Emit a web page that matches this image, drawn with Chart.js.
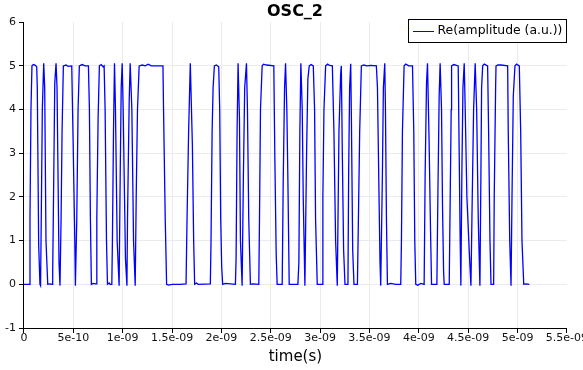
<!DOCTYPE html>
<html>
<head>
<meta charset="utf-8">
<script src="https://cdn.jsdelivr.net/npm/chart.js@4.4.0/dist/chart.umd.min.js"></script>
<style>
  html, body { margin: 0; padding: 0; background: #fff; overflow: hidden; }
  #chart { display: block; }
</style>
</head>
<body>
<canvas id="chart" width="588" height="370"></canvas>
<script>
// OSC_2 - valores (tiempo en segundos)
const time = [
  0, 0.051e-9, 0.061e-9, 0.071e-9, 0.081e-9, 0.096e-9, 0.112e-9, 0.129e-9, 0.135e-9, 0.149e-9,
  0.162e-9, 0.168e-9, 0.173e-9, 0.186e-9, 0.200e-9, 0.210e-9, 0.223e-9, 0.241e-9, 0.264e-9, 0.287e-9,
  0.291e-9, 0.302e-9, 0.312e-9, 0.325e-9, 0.335e-9, 0.355e-9, 0.365e-9, 0.376e-9, 0.386e-9, 0.399e-9,
  0.426e-9, 0.447e-9, 0.484e-9, 0.500e-9, 0.515e-9, 0.521e-9, 0.535e-9, 0.548e-9, 0.561e-9, 0.589e-9,
  0.619e-9, 0.653e-9, 0.663e-9, 0.673e-9, 0.683e-9, 0.700e-9, 0.731e-9, 0.738e-9, 0.751e-9, 0.764e-9,
  0.782e-9, 0.802e-9, 0.812e-9, 0.822e-9, 0.836e-9, 0.846e-9, 0.863e-9, 0.873e-9, 0.890e-9, 0.896e-9,
  0.907e-9, 0.917e-9, 0.927e-9, 0.944e-9, 0.964e-9, 0.975e-9, 0.985e-9, 0.995e-9, 1.005e-9, 1.028e-9,
  1.043e-9, 1.049e-9, 1.066e-9, 1.076e-9, 1.093e-9, 1.110e-9, 1.127e-9, 1.137e-9, 1.150e-9, 1.167e-9,
  1.198e-9, 1.228e-9, 1.259e-9, 1.289e-9, 1.330e-9, 1.408e-9, 1.414e-9, 1.431e-9, 1.445e-9, 1.462e-9,
  1.502e-9, 1.584e-9, 1.642e-9, 1.652e-9, 1.668e-9, 1.685e-9, 1.706e-9, 1.719e-9, 1.729e-9, 1.746e-9,
  1.766e-9, 1.888e-9, 1.895e-9, 1.906e-9, 1.916e-9, 1.929e-9, 1.949e-9, 1.973e-9, 1.983e-9, 1.993e-9,
  2.003e-9, 2.013e-9, 2.041e-9, 2.142e-9, 2.149e-9, 2.159e-9, 2.169e-9, 2.183e-9, 2.193e-9, 2.210e-9,
  2.223e-9, 2.236e-9, 2.254e-9, 2.264e-9, 2.277e-9, 2.294e-9, 2.315e-9, 2.379e-9, 2.386e-9, 2.396e-9,
  2.413e-9, 2.426e-9, 2.457e-9, 2.531e-9, 2.541e-9, 2.555e-9, 2.565e-9, 2.616e-9, 2.626e-9, 2.640e-9,
  2.650e-9, 2.663e-9, 2.673e-9, 2.687e-9, 2.721e-9, 2.775e-9, 2.785e-9, 2.795e-9, 2.805e-9, 2.819e-9,
  2.829e-9, 2.846e-9, 2.863e-9, 2.876e-9, 2.890e-9, 2.909e-9, 2.931e-9, 2.944e-9, 2.954e-9, 2.971e-9,
  3.022e-9, 3.028e-9, 3.039e-9, 3.056e-9, 3.076e-9, 3.096e-9, 3.124e-9, 3.140e-9, 3.157e-9, 3.174e-9,
  3.191e-9, 3.208e-9, 3.215e-9, 3.225e-9, 3.238e-9, 3.252e-9, 3.282e-9, 3.289e-9, 3.299e-9, 3.310e-9,
  3.317e-9, 3.330e-9, 3.343e-9, 3.378e-9, 3.388e-9, 3.401e-9, 3.418e-9, 3.442e-9, 3.472e-9, 3.513e-9,
  3.570e-9, 3.581e-9, 3.597e-9, 3.607e-9, 3.614e-9, 3.631e-9, 3.641e-9, 3.655e-9, 3.662e-9, 3.672e-9,
  3.682e-9, 3.716e-9, 3.766e-9, 3.817e-9, 3.824e-9, 3.834e-9, 3.851e-9, 3.868e-9, 3.898e-9, 3.936e-9,
  3.949e-9, 3.959e-9, 3.969e-9, 3.990e-9, 4.020e-9, 4.054e-9, 4.064e-9, 4.078e-9, 4.088e-9, 4.104e-9,
  4.119e-9, 4.129e-9, 4.183e-9, 4.193e-9, 4.206e-9, 4.216e-9, 4.230e-9, 4.240e-9, 4.251e-9, 4.257e-9,
  4.308e-9, 4.318e-9, 4.328e-9, 4.332e-9, 4.355e-9, 4.399e-9, 4.409e-9, 4.419e-9, 4.426e-9, 4.436e-9,
  4.447e-9, 4.460e-9, 4.470e-9, 4.487e-9, 4.510e-9, 4.528e-9, 4.538e-9, 4.555e-9, 4.571e-9, 4.586e-9,
  4.602e-9, 4.619e-9, 4.629e-9, 4.636e-9, 4.647e-9, 4.663e-9, 4.697e-9, 4.707e-9, 4.721e-9, 4.731e-9,
  4.758e-9, 4.764e-9, 4.778e-9, 4.782e-9, 4.802e-9, 4.832e-9, 4.900e-9, 4.906e-9, 4.921e-9, 4.934e-9,
  4.944e-9, 4.957e-9, 4.974e-9, 4.990e-9, 5.018e-9, 5.032e-9, 5.045e-9, 5.063e-9, 5.086e-9, 5.120e-9
];

const amplitude = [
  0, 0, 1.5, 4.0, 5.0, 5.03, 5.02, 4.98, 4.5, 0.9,
  0, -0.03, 1.0, 4.0, 5.06, 4.5, 1.0, 0, 0.01, 0,
  0.3, 2.5, 4.6, 5.06, 4.5, 0.5, -0.03, 1.5, 3.5, 5.0,
  5.02, 4.99, 5.0, 3.0, 1.0, -0.03, 1.5, 4.0, 5.0, 5.03,
  5.0, 5.0, 4.0, 1.5, 0, 0.02, 0.01, 1.5, 3.8, 5.0,
  5.03, 4.98, 5.0, 4.0, 1.0, 0, 0.03, 0, 0, 1.0,
  3.5, 5.06, 4.0, 1.0, -0.03, 2.5, 4.5, 5.06, 4.0, 0.6,
  -0.03, 1.5, 4.2, 5.06, 4.0, 1.0, -0.03, 2.0, 4.0, 5.0,
  5.02, 5.0, 5.04, 5.0, 5.0, 5.0, 4.0, 1.5, 0, -0.02,
  0, 0, 0.01, 1.5, 3.5, 5.06, 3.2, 1.0, 0, 0.03,
  0, 0.01, 1.0, 3.5, 4.5, 5.0, 5.02, 4.98, 4.0, 1.5,
  0.4, 0, 0.02, 0, 0.6, 3.5, 5.06, 3.8, 1.0, -0.03,
  2.5, 4.5, 5.06, 4.0, 1.5, 0, 0.01, 0, 1.5, 4.0,
  5.0, 5.04, 5.02, 5.0, 3.0, 0.7, 0, 0, 2.3, 4.5,
  5.06, 4.0, 2.5, 0, 0, 0, 0.5, 3.5, 5.06, 4.0,
  2.0, -0.03, 3.0, 4.7, 5.0, 5.03, 5.0, 4.0, 1.5, 0,
  0, 2.0, 4.0, 5.0, 5.04, 5.01, 5.0, 3.5, 1.0, -0.03,
  3.5, 4.8, 5.0, 3.0, 0.8, 0, 0, 2.5, 4.5, 5.05,
  3.8, 0.8, 0, 0, 1.5, 3.5, 5.0, 5.02, 5.0, 5.01,
  5.0, 4.5, 2.0, 0.5, -0.03, 2.5, 4.5, 5.06, 4.0, 1.5,
  0, 0.02, 0, 0, 1.0, 3.5, 5.0, 5.04, 5.0, 5.0,
  3.5, 1.0, 0, -0.02, 0.02, 0, 2.5, 4.6, 5.06, 3.3,
  1.2, 0, 0, 2.0, 4.3, 5.06, 4.0, 1.8, 0.3, 0,
  0, 2.0, 4.0, 5.0, 5.03, 5.0, 3.0, 1.0, -0.03, 2.5,
  4.5, 5.06, 4.0, 2.0, 0.8, -0.03, 1.5, 4.0, 5.06, 4.0,
  1.5, -0.03, 2.5, 4.5, 5.0, 5.04, 5.0, 3.5, 1.0, 0,
  0, 2.0, 4.5, 5.0, 5.02, 5.02, 5.0, 3.5, 1.0, -0.03,
  2.0, 4.3, 5.0, 5.04, 5.0, 3.5, 1.0, 0, 0.01, 0
];

const seriesLabel = "Re(amplitude (a.u.))";
const xTicks = { min: 0, max: 5.5e-9, step: 5e-10 };
const yTicks = { min: -1, max: 6, step: 1 };

// etiquetas tipo 1e-09
function fmtTick(v) {
  if (Math.abs(v) < 1e-15) return "0";
  const s = Number(v.toPrecision(4)).toExponential();
  return s.replace(/e([-+])(\d)$/, (m, sg, d) => "e" + sg + "0" + d);
}

// leyenda con recuadro dentro del area del grafico
const legendBox = {
  id: "legendBox",
  afterDraw(chart) {
    const { ctx, chartArea } = chart;
    const ds = chart.data.datasets[0];
    ctx.save();
    ctx.font = '12.4px "DejaVu Sans"';
    const tw = ctx.measureText(ds.label).width;
    const w = Math.round(29 + tw + 4), h = 23;
    const x = Math.round(chartArea.right - w - 1), y = Math.round(chartArea.top - 3);
    ctx.fillStyle = "#fff";
    ctx.fillRect(x, y, w, h);
    ctx.strokeStyle = "#000";
    ctx.lineWidth = 1;
    ctx.strokeRect(x + 0.5, y + 0.5, w, h);
    ctx.strokeStyle = ds.borderColor;
    ctx.beginPath();
    ctx.moveTo(x + 5, y + 12.5);
    ctx.lineTo(x + 26, y + 12.5);
    ctx.stroke();
    ctx.fillStyle = "#000";
    ctx.textBaseline = "middle";
    ctx.fillText(ds.label, x + 29.5, y + 12);
    ctx.restore();
  }
};

Chart.defaults.font.family = '"DejaVu Sans", sans-serif';
Chart.defaults.color = "#000";

const ctx = document.getElementById("chart").getContext("2d");
new Chart(ctx, {
  type: "line",
  data: {
    datasets: [{
      label: seriesLabel,
      data: time.map((t, i) => ({ x: t, y: amplitude[i] })),
      borderColor: "#0000ff",
      borderWidth: 1.3,
      pointRadius: 0,
      tension: 0,
      fill: false
    }]
  },
  options: {
    responsive: false,
    animation: false,
    layout: { padding: { left: 2, right: 0, top: 0, bottom: 0 } },
    plugins: {
      legend: { display: false },
      tooltip: { enabled: false },
      title: {
        display: true,
        text: "OSC_2",
        font: { size: 16, weight: "bold" },
        padding: { top: 2, bottom: 1 },
        color: "#000"
      }
    },
    scales: {
      x: {
        type: "linear",
        min: xTicks.min,
        max: xTicks.max,
        border: { color: "#000", width: 1 },
        grid: {
          color: (c) => (c.index === 11 ? "rgba(0,0,0,0)" : "#ebebeb"),
          tickColor: "#000",
          tickLength: 5
        },
        ticks: {
          stepSize: xTicks.step,
          padding: 0,
          maxRotation: 0,
          autoSkip: false,
          font: { size: 11, lineHeight: 1 },
          color: "#111",
          callback: (v) => fmtTick(v)
        },
        title: {
          display: true,
          text: "time(s)",
          font: { size: 15 },
          padding: { top: 4, bottom: 4 },
          color: "#000"
        }
      },
      y: {
        min: yTicks.min,
        max: yTicks.max,
        border: { color: "#000", width: 1 },
        grid: {
          color: (c) => (c.tick && c.tick.value === yTicks.max ? "rgba(0,0,0,0)" : "#ebebeb"),
          tickColor: "#000",
          tickLength: 5
        },
        ticks: {
          stepSize: yTicks.step,
          padding: 3,
          font: { size: 11 },
          color: "#111"
        }
      }
    }
  },
  plugins: [legendBox]
});
</script>
</body>
</html>
